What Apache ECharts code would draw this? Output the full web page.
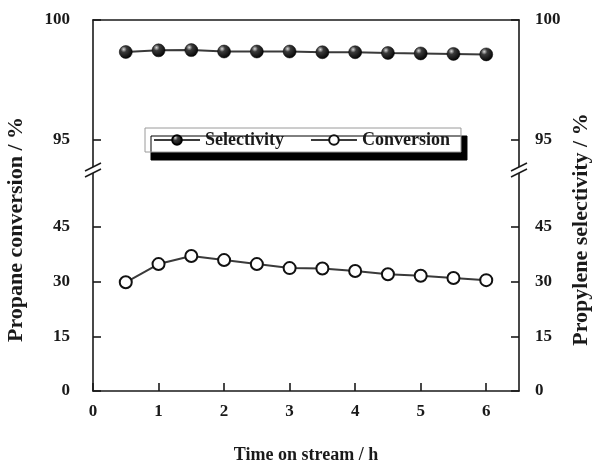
<!DOCTYPE html>
<html><head><meta charset="utf-8">
<script src="https://cdn.jsdelivr.net/npm/echarts@6/dist/echarts.min.js"></script>
<style>html,body{margin:0;padding:0;background:#fff}#c{width:593px;height:465px}</style>
</head><body><div id="c"></div>
<script>
const times = [0.5, 1, 1.5, 2, 2.5, 3, 3.5, 4, 4.5, 5, 5.5, 6];
const selectivity = [98.66, 98.73, 98.74, 98.68, 98.68, 98.68, 98.65, 98.65, 98.62, 98.60, 98.58, 98.56];
const conversion = [29.8, 34.8, 37.0, 35.9, 34.8, 33.7, 33.6, 32.9, 32.0, 31.6, 31.0, 30.4];
const xTicks = [0, 1, 2, 3, 4, 5, 6];
const upperTicks = [95, 100];
const lowerTicks = [0, 15, 30, 45];
const seriesNames = ['Selectivity', 'Conversion'];
const xTitle = 'Time on stream / h';
const leftTitle = 'Propane conversion / %';
const rightTitle = 'Propylene selectivity / %';

const FONT = "'Liberation Serif', 'Times New Roman', serif";
const INK = '#1a1a1a';
const chart = echarts.init(document.getElementById('c'), null, {renderer: 'canvas'});

const L = 93, R = 74, TOP = 20, SPLIT = 170, BOT = 72;
const upperMin = 93.72, upperMax = 100;
const lowerMin = 0, lowerMax = 60.6;

function yAx(grid, min, max, ticks, pos, margin) {
  return {
    type: 'value', gridIndex: grid, position: pos, min: min, max: max,
    axisLine: {show: true, lineStyle: {color: INK, width: 1.6}},
    axisTick: {show: true, inside: true, length: 8, customValues: ticks, lineStyle: {color: INK, width: 1.6}},
    axisLabel: {show: true, customValues: ticks, margin: margin, color: INK, fontFamily: FONT, fontWeight: 'bold', fontSize: 17},
    splitLine: {show: false}
  };
}

const sphere = new echarts.graphic.RadialGradient(0.35, 0.3, 0.75, [
  {offset: 0, color: '#d8d8d8'},
  {offset: 0.3, color: '#3a3a3a'},
  {offset: 1, color: '#000000'}
]);

const option = {
  animation: false,
  backgroundColor: '#ffffff',
  grid: [
    {left: L, right: R, top: TOP, height: SPLIT - TOP},
    {left: L, right: R, top: SPLIT, bottom: BOT}
  ],
  xAxis: [
    {type: 'value', gridIndex: 0, position: 'top', min: 0, max: 6.5,
     axisLine: {show: true, lineStyle: {color: INK, width: 1.6}},
     axisTick: {show: false}, axisLabel: {show: false}, splitLine: {show: false}},
    {type: 'value', gridIndex: 1, position: 'bottom', min: 0, max: 6.5,
     axisLine: {show: true, lineStyle: {color: INK, width: 1.6}},
     axisTick: {show: true, inside: true, length: 8, customValues: xTicks, lineStyle: {color: INK, width: 1.6}},
     axisLabel: {show: true, customValues: xTicks, margin: 12, color: INK, fontFamily: FONT, fontWeight: 'bold', fontSize: 17},
     splitLine: {show: false},
     name: xTitle, nameLocation: 'middle', nameGap: 55,
     nameTextStyle: {color: INK, fontFamily: FONT, fontWeight: 'bold', fontSize: 18}}
  ],
  yAxis: [
    yAx(0, upperMin, upperMax, upperTicks, 'left', 23),
    yAx(0, upperMin, upperMax, upperTicks, 'right', 16),
    yAx(1, lowerMin, lowerMax, lowerTicks, 'left', 23),
    yAx(1, lowerMin, lowerMax, lowerTicks, 'right', 16)
  ],
  legend: {
    data: seriesNames,
    left: 145, top: 128,
    orient: 'horizontal',
    itemWidth: 46, itemHeight: 12, itemGap: 26,
    padding: [3, 11, 3, 8],
    backgroundColor: '#ffffff',
    borderColor: '#9a9a9a', borderWidth: 1,
    shadowColor: '#000000', shadowBlur: 0, shadowOffsetX: 6, shadowOffsetY: 8,
    textStyle: {color: INK, fontFamily: FONT, fontWeight: 'bold', fontSize: 18}
  },
  series: [
    {name: seriesNames[0], type: 'line', xAxisIndex: 0, yAxisIndex: 0,
     data: times.map((t, i) => [t, selectivity[i]]),
     symbol: 'circle', symbolSize: 13,
     lineStyle: {color: '#3a3a3a', width: 2},
     itemStyle: {color: sphere, borderColor: '#000', borderWidth: 0.5}},
    {name: seriesNames[1], type: 'line', xAxisIndex: 1, yAxisIndex: 2,
     data: times.map((t, i) => [t, conversion[i]]),
     symbol: 'circle', symbolSize: 12,
     lineStyle: {color: '#3a3a3a', width: 2},
     itemStyle: {color: '#ffffff', borderColor: '#111', borderWidth: 2}}
  ]
};
chart.setOption(option);

// axis break marks and y-axis titles
const yBreak = chart.convertToPixel({gridIndex: 0}, [0, upperMin])[1];
const xLeft = chart.convertToPixel({gridIndex: 1}, [0, 0])[0];
const xRight = chart.convertToPixel({gridIndex: 1}, [6.5, 0])[0];
const plotMidY = (chart.convertToPixel({gridIndex: 0}, [0, upperMax])[1] + chart.convertToPixel({gridIndex: 1}, [0, 0])[1]) / 2;
function breakMark(x) {
  return [
    {type: 'rect', shape: {x: x - 2, y: yBreak - 3, width: 4, height: 6}, style: {fill: '#fff'}, z: 100},
    {type: 'line', shape: {x1: x - 8, y1: yBreak + 1, x2: x + 8, y2: yBreak - 7}, style: {stroke: INK, lineWidth: 1.5}, z: 101},
    {type: 'line', shape: {x1: x - 8, y1: yBreak + 7, x2: x + 8, y2: yBreak - 1}, style: {stroke: INK, lineWidth: 1.5}, z: 101}
  ];
}
const titleFont = "bold 22px 'Liberation Serif', 'Times New Roman', serif";
chart.setOption({
  graphic: [].concat(breakMark(xLeft), breakMark(xRight), [
    {type: 'text', x: 16, y: plotMidY + 24, rotation: Math.PI / 2,
     style: {text: leftTitle, fill: INK, font: titleFont, align: 'center', verticalAlign: 'middle'}},
    {type: 'text', x: 581, y: plotMidY + 24, rotation: Math.PI / 2,
     style: {text: rightTitle, fill: INK, font: titleFont, align: 'center', verticalAlign: 'middle'}}
  ])
});
</script>
</body></html>
